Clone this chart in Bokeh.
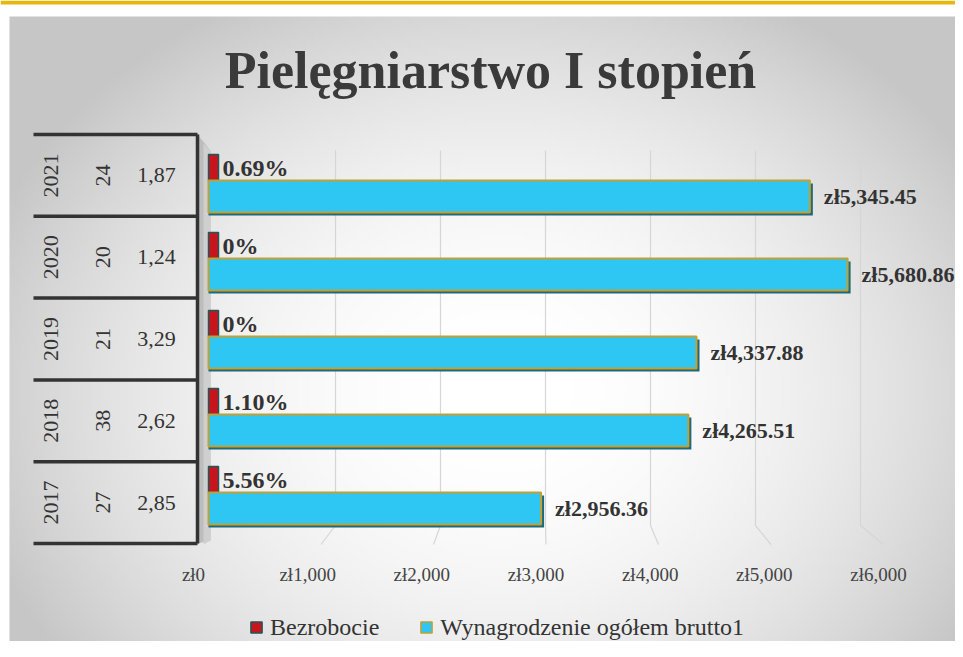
import numpy as np
from bokeh.plotting import figure
from bokeh.models import (ColumnDataSource, LinearAxis, FixedTicker, CustomJSTickFormatter,
                          Range1d, Label, Legend, LegendItem)
from bokeh.core.properties import value
from bokeh.embed import file_html
from bokeh.resources import INLINE

# ---------------- data ----------------
YEARS = [2017, 2018, 2019, 2020, 2021]
GRADUATES = [27, 38, 21, 20, 24]
RATIO = ["2,85", "2,62", "3,29", "1,24", "1,87"]
UNEMPLOYMENT = [5.56, 1.10, 0.0, 0.0, 0.69]          # Bezrobocie, %
SALARY = [2956.36, 4265.51, 4337.88, 5680.86, 5345.45]  # Wynagrodzenie ogółem brutto, zł
TICKS = [0, 1000, 2000, 3000, 4000, 5000, 6000]
TITLE = "Pielęgniarstwo I stopień"
SERIES = ["Bezrobocie", "Wynagrodzenie ogółem brutto1"]

# ---------------- layout constants ----------------
W, H = 955, 641
PX_PER_X = 0.1125     # px per zł
PX_PER_Y = 78.0       # px per category step
X0_PX = 208.0         # px of x = 0
Y0_PX = 508.0         # px of first category centre
X_START = -X0_PX / PX_PER_X
X_END = (W - X0_PX) / PX_PER_X
Y_TOP = Y0_PX / PX_PER_Y
Y_BOT = -(H - Y0_PX) / PX_PER_Y

def dx(px):
    return px / PX_PER_X

def dy(px):
    return px / PX_PER_Y

def xd(px):
    return (px - X0_PX) / PX_PER_X

def yd(px):
    return (Y0_PX - px) / PX_PER_Y

FONT = "Liberation Serif"
SERIF = value(FONT)
TXT = "#333333"
RED, RED_EDGE = "#c8141c", "#1d5a5c"
BLUE, BLUE_EDGE = "#2ec6f2", "#c4a032"
BAR_H = dy(32)
RED_H = dy(26)
RED_DEPTH = dx(10)

p = figure(width=W, height=H, x_range=Range1d(X_START, X_END), y_range=Range1d(Y_BOT, Y_TOP),
           x_axis_location=None, y_axis_location=None, toolbar_location=None,
           output_backend="svg", min_border=0, background_fill_color="white",
           border_fill_color="white", outline_line_color=None)
p.grid.visible = False

# ---------------- background gradient ----------------
nx, ny = 240, 160
gx = np.linspace(0, 1, nx)
gy = np.linspace(0, 1, ny)          # 0 = bottom
GX, GY = np.meshgrid(gx, gy)
r = np.sqrt(((GX - 0.52) / 0.52) ** 2 + ((GY - 0.40) / 0.64) ** 2)
g = 256 - 46 * np.clip(r, 0, 1.35) ** 2
g = np.clip(g, 198, 255).astype(np.uint32)
img = (255 << 24) | (g << 16) | (g << 8) | g
img = img.astype(np.uint32)
bg_left, bg_top = xd(9), yd(16)
p.image_rgba(image=[img], x=bg_left, y=Y_BOT, dw=X_END - bg_left, dh=bg_top - Y_BOT)

# yellow band on top
p.quad(left=X_START, right=X_END, bottom=yd(4), top=Y_TOP, fill_color="#e6b80e", line_color=None)

# ---------------- table on the left ----------------
T_LEFT, T_RIGHT = xd(33), xd(197)
T_Y0 = yd(543)
T_ROW = dy(81.8)
n = len(YEARS)
tb = [T_Y0 + k * T_ROW for k in range(n + 1)]

# 3D side wall next to the table
p.patch(x=[T_RIGHT, xd(210), xd(210), T_RIGHT], y=[tb[-1], yd(150), yd(540), tb[0]],
        fill_color="#bdbdbd", line_color=None)
p.patch(x=[xd(203), xd(210), xd(210), xd(203)], y=[yd(143), yd(150), yd(540), yd(544)],
        fill_color="#cfcfcf", line_color=None)

p.segment(x0=[T_LEFT] * (n + 1), x1=[T_RIGHT] * (n + 1), y0=tb, y1=tb,
          line_color="#333333", line_width=3.5)
p.segment(x0=[T_RIGHT], x1=[T_RIGHT], y0=[tb[0]], y1=[tb[-1]], line_color="#333333", line_width=3.5)

row_c = [T_Y0 + (i + 0.5) * T_ROW for i in range(n)]
tsrc = ColumnDataSource(dict(y=row_c, year=[str(v) for v in YEARS],
                             grad=[str(v) for v in GRADUATES], ratio=RATIO))
p.text(x=xd(50), y="y", text="year", source=tsrc, angle=np.pi / 2, text_align="center",
       text_baseline="middle", text_font=SERIF, text_font_size="22px", text_color=TXT)
p.text(x=xd(102), y="y", text="grad", source=tsrc, angle=np.pi / 2, text_align="center",
       text_baseline="middle", text_font=SERIF, text_font_size="22px", text_color=TXT)
p.text(x=xd(156), y="y", text="ratio", source=tsrc, text_align="center",
       text_baseline="middle", text_font=SERIF, text_font_size="22px", text_color=TXT)

# ---------------- gridlines (back wall + floor) ----------------
GRID_TOP, GRID_BACK_BOT, GRID_FLOOR = yd(150), yd(525), yd(544)
BACK_OFF, BACK_SCALE = dx(22), 0.105 / PX_PER_X
gxs = [[BACK_OFF + t * BACK_SCALE, BACK_OFF + t * BACK_SCALE, t] for t in TICKS[1:]]
gys = [[GRID_TOP, GRID_BACK_BOT, GRID_FLOOR] for _ in TICKS[1:]]
p.multi_line(xs=gxs, ys=gys, line_color="#d6d6d6", line_width=1.2)

# ---------------- bars ----------------
ys = list(range(n))
src = ColumnDataSource(dict(
    y=ys,
    sal=SALARY,
    unemp=[u / 100 for u in UNEMPLOYMENT],
    sal_lbl=["zł{:,.2f}".format(v) for v in SALARY],
    un_lbl=[("{:.2f}%".format(u) if u else "0%") for u in UNEMPLOYMENT],
))
src.data["blue_b"] = [y - BAR_H / 2 for y in ys]
src.data["blue_t"] = [y + BAR_H / 2 for y in ys]
src.data["sh_b"] = [y - BAR_H / 2 - dy(3) for y in ys]
src.data["sh_t"] = [y + BAR_H / 2 - dy(3) for y in ys]
src.data["sh_r"] = [v + dx(3) for v in SALARY]
src.data["red_b"] = [y + BAR_H / 2 for y in ys]
src.data["red_t"] = [y + BAR_H / 2 + RED_H for y in ys]
src.data["red_r"] = [u / 100 + RED_DEPTH for u in UNEMPLOYMENT]
src.data["un_y"] = [y + BAR_H / 2 + RED_H / 2 for y in ys]

p.quad(left=0, right="red_r", bottom="red_b", top="red_t", source=src,
       fill_color=RED, line_color=RED_EDGE, line_width=1.5)
p.text(x=0, y="un_y", text="un_lbl", source=src, x_offset=14, text_align="left",
       text_baseline="middle", text_font=SERIF, text_font_style="bold",
       text_font_size="24px", text_color=TXT)
p.quad(left=0, right="sh_r", bottom="sh_b", top="sh_t", source=src,
       fill_color="#1c6b7c", line_color=None)
p.quad(left=0, right="sal", bottom="blue_b", top="blue_t", source=src,
       fill_color=BLUE, line_color=BLUE_EDGE, line_width=2)
p.text(x="sal", y="y", text="sal_lbl", source=src, x_offset=14, text_align="left",
       text_baseline="middle", text_font=SERIF, text_font_style="bold",
       text_font_size="22px", text_color=TXT)

# legend swatches (square keys, as in the original); NaN point => nothing drawn in the plot
key_red = p.scatter(x=[float("nan")], y=[float("nan")], marker="square", size=11,
                    fill_color=RED, line_color=RED_EDGE, line_width=1.5)
key_blue = p.scatter(x=[float("nan")], y=[float("nan")], marker="square", size=11,
                     fill_color=BLUE, line_color=BLUE_EDGE, line_width=1.5)

# ---------------- x axis (front floor edge) ----------------
LBL_X0, LBL_SCALE = 193.0, 0.11417
p.extra_x_ranges["labels"] = Range1d(-LBL_X0 / LBL_SCALE, (W - LBL_X0) / LBL_SCALE)
xaxis = LinearAxis(x_range_name="labels", ticker=FixedTicker(ticks=TICKS),
                   formatter=CustomJSTickFormatter(code="return 'zł' + tick.toLocaleString('en-US');"),
                   fixed_location=yd(555), axis_line_color=None, major_tick_line_color=None,
                   minor_tick_line_color=None, major_label_standoff=2,
                   major_label_text_font=FONT, major_label_text_font_size="19px",
                   major_label_text_color="#444444")
p.add_layout(xaxis, "below")

# ---------------- title ----------------
p.add_layout(Label(x=xd(490), y=yd(70), text=TITLE, text_align="center", text_baseline="middle",
                   text_font=FONT, text_font_style="bold", text_font_size="52px",
                   text_color="#3a3a3a"))

# ---------------- legend ----------------
legend = Legend(items=[LegendItem(label=SERIES[0], renderers=[key_red], index=0),
                       LegendItem(label=SERIES[1], renderers=[key_blue], index=0)],
                orientation="horizontal", location=(242, 0), background_fill_alpha=0,
                border_line_color=None, label_text_font=FONT, label_text_font_size="24px",
                label_text_color=TXT, glyph_width=28, glyph_height=28, spacing=33,
                label_standoff=-6, padding=0, margin=0)
p.add_layout(legend)

open("out.html", "w").write(file_html(p, INLINE))
